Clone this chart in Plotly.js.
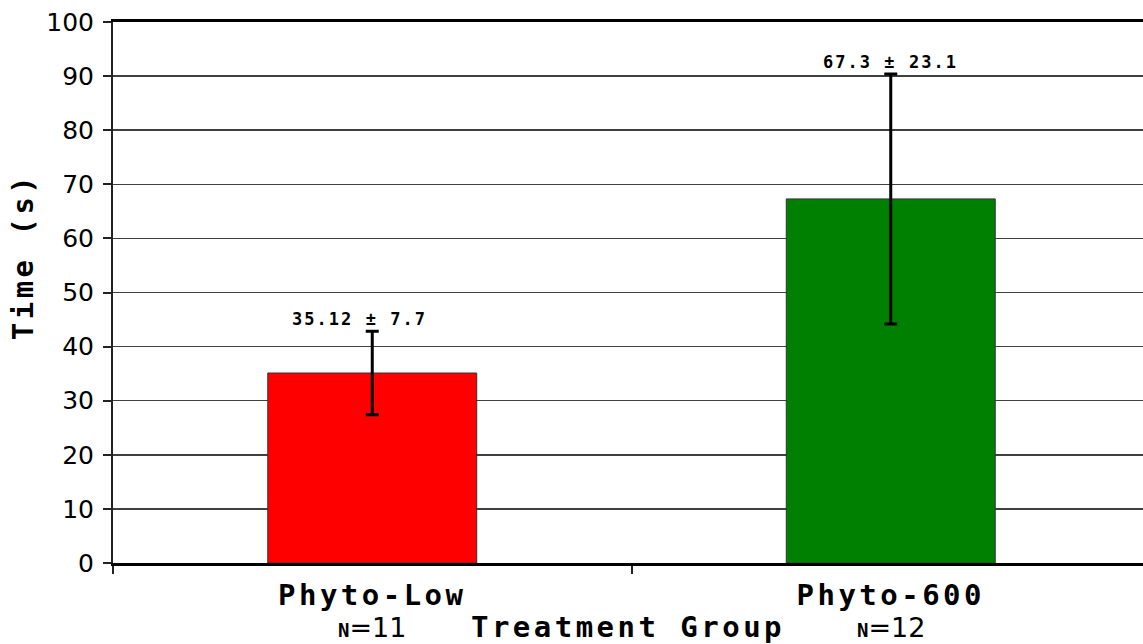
<!DOCTYPE html>
<html>
<head>
<meta charset="utf-8">
<script src="https://cdn.plot.ly/plotly-3.0.1.min.js"></script>
<style>
  body { margin: 0; background: #fff; }
  #chart { width: 1143px; height: 644px; }
  text[style*="DejaVu Sans Mono"] { letter-spacing: 0.12em; }
</style>
</head>
<body>
<div id="chart"></div>
<script>
// ---- data ----
const categories = ["Phyto-Low", "Phyto-600"];
const meanLabels = ["35.12", "67.3"];
const sdLabels = ["7.7", "23.1"];
const means = [35.12, 67.3];
const sds = [7.7, 23.1];
const counts = [11, 12];
const barColors = ["#ff0000", "#008000"];
const yTicks = [0, 10, 20, 30, 40, 50, 60, 70, 80, 90, 100];

const MONO = "DejaVu Sans Mono";
const SANS = "DejaVu Sans";
const annCharW = 12.3;

const trace = {
  type: "bar",
  x: categories,
  y: means,
  width: 0.403,
  marker: { color: barColors, line: { color: "#333333", width: 1 } },
  error_y: { type: "data", array: sds, visible: true, color: "#000000", thickness: 3, width: 6.5 },
  hoverinfo: "skip"
};

const annotations = [];
categories.forEach((c, i) => {
  annotations.push({
    x: c, y: means[i] + sds[i], xref: "x", yref: "y",
    text: meanLabels[i] + " ± " + sdLabels[i],
    showarrow: false, yanchor: "bottom", xanchor: "center",
    xshift: -(meanLabels[i].length - sdLabels[i].length) * annCharW / 2,
    yshift: 0,
    font: { family: MONO, size: 17, weight: "bold", color: "#000" }
  });
  annotations.push({
    x: c, y: 0, xref: "x", yref: "paper",
    text: "<span style='font-family:" + MONO + ";font-weight:bold;font-size:19px'>N</span>=" + counts[i],
    showarrow: false, yanchor: "middle", xanchor: "center", yshift: -64,
    font: { family: SANS, size: 27, color: "#000" }
  });
});
annotations.push({
  x: 0, y: 0.567, xref: "paper", yref: "paper", xshift: -90,
  text: "Time (s)", textangle: -90, showarrow: false,
  xanchor: "center", yanchor: "middle",
  font: { family: MONO, size: 29, weight: "bold", color: "#000" }
});

const layout = {
  width: 1143, height: 644,
  margin: { l: 113, r: 0, t: 22, b: 81, pad: 0 },
  paper_bgcolor: "#ffffff", plot_bgcolor: "#ffffff",
  showlegend: false,
  bargap: 0,
  xaxis: {
    type: "category",
    range: [-0.5, 1.4865],
    showgrid: false, zeroline: false,
    showline: true, linecolor: "#000000", linewidth: 3, mirror: true,
    ticks: "outside", tickson: "boundaries", ticklen: 8, tickwidth: 2, tickcolor: "#222",
    tickfont: { family: MONO, size: 29, weight: "bold", color: "#000" },
    ticklabelstandoff: 4,
    title: { text: "Treatment Group", standoff: 10, font: { family: MONO, size: 29, weight: "bold", color: "#000" } },
    fixedrange: true
  },
  yaxis: {
    range: [0, 100],
    tickvals: yTicks,
    ticktext: yTicks.map(String),
    showgrid: true, gridcolor: "#404040", gridwidth: 1.5,
    zeroline: false,
    showline: true, linecolor: "#222222", linewidth: 2,
    ticks: "outside", ticklen: 8, tickwidth: 2, tickcolor: "#222",
    tickfont: { family: SANS, size: 25, color: "#000" },
    ticklabelstandoff: 4,
    fixedrange: true
  },
  annotations: annotations
};

Plotly.newPlot("chart", [trace], layout, { displayModeBar: false, staticPlot: true });
</script>
</body>
</html>
